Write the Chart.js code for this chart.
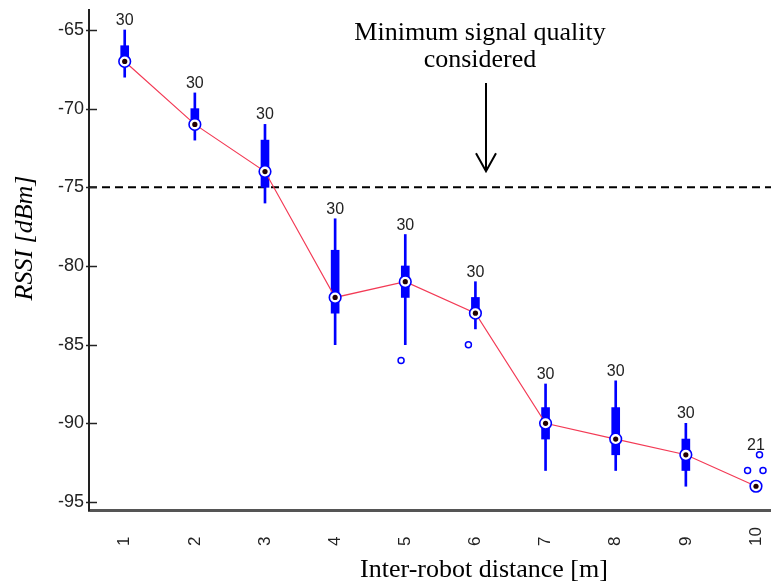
<!DOCTYPE html>
<html>
<head>
<meta charset="utf-8">
<script src="https://cdn.jsdelivr.net/npm/chart.js@4/dist/chart.umd.min.js"></script>
<style>
  html, body { margin: 0; padding: 0; background: #fff; overflow: hidden; }
  canvas { display: block; }
</style>
</head>
<body>
<canvas id="c" width="771" height="582" style="width:771px;height:582px"></canvas>
<script>
// RSSI samples summarised per inter-robot distance (box plot statistics)
const distances   = [1, 2, 3, 4, 5, 6, 7, 8, 9, 10];
const medians     = [-67, -71, -74, -82, -81, -83, -90, -91, -92, -94];
const q1          = [-67, -71, -75, -83, -82, -83, -91, -92, -93, -94];
const q3          = [-66, -70, -72, -79, -80, -82, -89, -89, -91, -94];
const whiskerLow  = [-68, -72, -76, -85, -85, -84, -93, -93, -94, -94];
const whiskerHigh = [-65, -69, -71, -77, -78, -81, -87.5, -87.3, -90, -94];
const sampleCounts = [30, 30, 30, 30, 30, 30, 30, 30, 30, 21];

// outliers (x carries the small horizontal jitter of the plot)
const outlierX = [4.94, 5.9, 9.88, 10.05, 10.1];
const outlierY = [-86, -85, -93, -92, -93];

const yTicks = [-95, -90, -85, -80, -75, -70, -65];
const xTickLabels = ['1', '2', '3', '4', '5', '6', '7', '8', '9', '10'];

const threshold = -75;
const noteLines = ['Minimum signal quality', 'considered'];
const xTitle = 'Inter-robot distance [m]';
const yTitle = 'RSSI [dBm]';

const BLUE = '#0000ff';
const SERIF = '"Liberation Serif", "Times New Roman", serif';
const SANS = '"Liberation Sans", Arial, sans-serif';

const decorations = {
  id: 'decorations',
  beforeDatasetsDraw(chart) {
    const { ctx, chartArea, scales: { y } } = chart;
    const py = y.getPixelForValue(threshold);
    ctx.save();
    ctx.strokeStyle = '#000';
    ctx.lineWidth = 2;
    ctx.setLineDash([8, 5]);
    ctx.beginPath();
    ctx.moveTo(chartArea.left, py);
    ctx.lineTo(chartArea.right, py);
    ctx.stroke();
    ctx.restore();
  },
  afterDraw(chart) {
    const { ctx, chartArea, scales: { x, y } } = chart;
    ctx.save();

    // inward y tick marks
    ctx.strokeStyle = '#222';
    ctx.lineWidth = 1.5;
    yTicks.forEach(v => {
      const py = Math.round(y.getPixelForValue(v)) + 0.5;
      ctx.beginPath();
      ctx.moveTo(chartArea.left - 3, py);
      ctx.lineTo(chartArea.left + 8, py);
      ctx.stroke();
    });

    // rotated x tick labels, starting just below the axis
    ctx.fillStyle = '#222';
    ctx.font = '17px ' + SANS;
    ctx.textAlign = 'left';
    ctx.textBaseline = 'middle';
    distances.forEach((d, i) => {
      ctx.save();
      ctx.translate(x.getPixelForValue(d), 546);
      ctx.rotate(-Math.PI / 2);
      ctx.fillText(xTickLabels[i], 0, 0);
      ctx.restore();
    });

    // sample counts above each group
    ctx.font = '16px ' + SANS;
    ctx.textAlign = 'center';
    ctx.textBaseline = 'alphabetic';
    distances.forEach((d, i) => {
      let top = whiskerHigh[i];
      outlierX.forEach((ox, k) => {
        if (Math.round(ox) === d) top = Math.max(top, outlierY[k]);
      });
      ctx.fillText(String(sampleCounts[i]), x.getPixelForValue(d), y.getPixelForValue(top) - 5);
    });

    // axis titles
    ctx.fillStyle = '#000';
    ctx.font = '26px ' + SERIF;
    ctx.textAlign = 'center';
    ctx.fillText(xTitle, 484, 577);

    ctx.save();
    ctx.translate(32, 238);
    ctx.rotate(-Math.PI / 2);
    ctx.font = 'italic 26px ' + SERIF;
    ctx.textBaseline = 'alphabetic';
    ctx.fillText(yTitle, 0, 0);
    ctx.restore();

    // annotation and arrow
    ctx.font = '26px ' + SERIF;
    ctx.textAlign = 'center';
    ctx.fillText(noteLines[0], 480, 40);
    ctx.fillText(noteLines[1], 480, 67);

    const ax = 486, ay0 = 83, ay1 = y.getPixelForValue(threshold) - 16;
    ctx.strokeStyle = '#000';
    ctx.lineWidth = 2;
    ctx.beginPath();
    ctx.moveTo(ax, ay0);
    ctx.lineTo(ax, ay1);
    ctx.moveTo(ax - 10, ay1 - 18);
    ctx.lineTo(ax, ay1);
    ctx.lineTo(ax + 10, ay1 - 18);
    ctx.stroke();

    ctx.restore();
  }
};

new Chart(document.getElementById('c'), {
  type: 'bar',
  data: {
    datasets: [
      {
        label: 'whiskers',
        data: distances.map((d, i) => ({ x: d, y: [whiskerLow[i], whiskerHigh[i]] })),
        backgroundColor: BLUE,
        barThickness: 2,
        grouped: false,
        order: 6
      },
      {
        label: 'boxes',
        data: distances.map((d, i) => ({ x: d, y: [q1[i], q3[i]] })),
        backgroundColor: BLUE,
        barThickness: 8,
        grouped: false,
        order: 5
      },
      {
        type: 'line',
        label: 'median trend',
        data: distances.map((d, i) => ({ x: d, y: medians[i] })),
        borderColor: '#f33a55',
        borderWidth: 1.2,
        pointRadius: 0,
        order: 4
      },
      {
        type: 'line',
        label: 'median',
        data: distances.map((d, i) => ({ x: d, y: medians[i] })),
        showLine: false,
        pointRadius: 5.8,
        pointBorderWidth: 1.6,
        pointBorderColor: BLUE,
        pointBackgroundColor: '#fff',
        order: 3
      },
      {
        type: 'line',
        label: 'median dot',
        data: distances.map((d, i) => ({ x: d, y: medians[i] })),
        showLine: false,
        pointRadius: 2.6,
        pointBorderWidth: 0,
        pointBackgroundColor: '#200',
        order: 2
      },
      {
        type: 'line',
        label: 'outliers',
        data: outlierX.map((ox, k) => ({ x: ox, y: outlierY[k] })),
        showLine: false,
        pointRadius: 3,
        pointBorderWidth: 1.5,
        pointBorderColor: BLUE,
        pointBackgroundColor: '#fff',
        order: 1
      }
    ]
  },
  options: {
    responsive: false,
    animation: false,
    devicePixelRatio: 1,
    layout: { autoPadding: false, padding: { top: 10, right: 0, bottom: 0, left: 0 } },
    plugins: { legend: { display: false }, tooltip: { enabled: false } },
    scales: {
      x: {
        type: 'linear',
        min: 0.491,
        max: 10.214,
        offset: false,
        grid: { display: false, drawTicks: false },
        border: { display: true, color: '#555', width: 3 },
        ticks: { display: false },
        afterFit(s) { s.height = 72; s.paddingLeft = 0; s.paddingRight = 0; }
      },
      y: {
        type: 'linear',
        min: -95.51,
        max: -63.73,
        grid: { display: false, drawTicks: false },
        border: { display: true, color: '#222', width: 2 },
        ticks: { color: '#222', font: { family: 'Liberation Sans', size: 18 }, padding: 5 },
        afterBuildTicks(s) { s.ticks = yTicks.map(v => ({ value: v })); },
        afterFit(s) { s.width = 89; s.paddingTop = 0; s.paddingBottom = 0; }
      }
    }
  },
  plugins: [decorations]
});
</script>
</body>
</html>
